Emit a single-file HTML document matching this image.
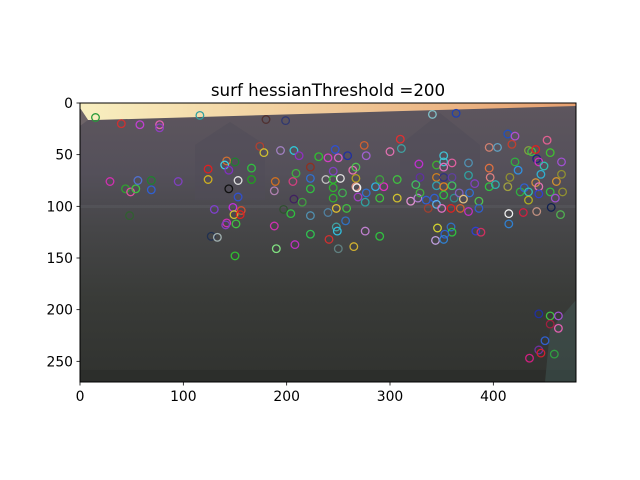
<!DOCTYPE html>
<html><head><meta charset="utf-8">
<style>
html,body{margin:0;padding:0;background:#fff;}
svg{display:block;font-family:"DejaVu Sans","Liberation Sans",sans-serif;}
</style></head>
<body>
<svg id="chart" width="640" height="480" viewBox="0 0 640 480" xmlns="http://www.w3.org/2000/svg">
<defs>
<linearGradient id="sky" x1="0" y1="0" x2="1" y2="0">
<stop offset="0" stop-color="#f8efc0"/><stop offset="0.5" stop-color="#f0c998"/><stop offset="1" stop-color="#e6a070"/>
</linearGradient>
<linearGradient id="bldg" x1="0" y1="0" x2="0" y2="1">
<stop offset="0" stop-color="#5e565e"/><stop offset="0.25" stop-color="#54505a"/><stop offset="0.45" stop-color="#464648"/><stop offset="0.7" stop-color="#393b38"/><stop offset="1" stop-color="#30322f"/>
</linearGradient>
<clipPath id="imgclip"><rect x="80" y="103" width="496" height="279"/></clipPath>
</defs>
<text x="328" y="96" text-anchor="middle" font-size="16.7">surf hessianThreshold =200</text>
<g id="photo" clip-path="url(#imgclip)">
<rect x="80" y="103" width="496" height="279" fill="url(#bldg)"/>
<polygon points="80,103 576,103 576,106 95,120 88,120 80,108" fill="url(#sky)"/>
<polygon points="80,108 88,120 80,126" fill="#6e6468"/>
<polygon points="195,145 230,122 265,145 265,200 195,200" fill="#504c58" opacity="0.5"/>
<polygon points="400,145 440,113 480,145 480,200 400,200" fill="#504c58" opacity="0.5"/>
<rect x="80" y="205" width="496" height="3" fill="#606068" opacity="0.35"/>
<rect x="80" y="370" width="496" height="12" fill="#2c2e2b"/>
<polygon points="550,330 576,300 576,382 545,382" fill="#4a6a66" opacity="0.35"/>
</g>
<g id="points" clip-path="url(#imgclip)"></g>
<rect x="80" y="103" width="496" height="279" fill="none" stroke="#000" stroke-width="1"/>
<g id="xticks"></g>
<g id="yticks"></g>
</svg>
<script>
const xTicks = [0, 100, 200, 300, 400];
const yTicks = [0, 50, 100, 150, 200, 250];
const kpX = [15,40,58,77,77,116,180,199,341,364,
174,178,194,207,212,231,240,247,250,259,275,277,300,310,311,352,396,404,414,418,421,434,437,441,452,455,
124,124,142,140,144,150,166,166,153,144,153,29,44,49,54,56,69,69,95,48,130,148,149,156,155,142,141,151,127,133,150,
189,188,206,209,223,223,223,207,215,197,204,223,188,223,208,190,
238,245,252,245,264,267,267,267,268,245,245,254,269,277,276,248,258,240,257,248,249,241,250,265,276,290,
286,294,290,307,290,307,320,325,327,329,329,328,335,337,345,345,345,343,345,352,352,360,352,360,352,360,352,350,359,362,368,367,371,376,376,382,377,386,386,376,346,359,360,353,344,352,383,388,
396,397,396,402,414,416,421,424,426,430,434,434,441,444,444,442,444,449,446,455,461,466,466,467,460,415,429,442,456,465,415,
444,455,463,455,463,450,444,446,459,435];
const kpY = [14,20,21,21,24,12,16,17,11,10,
42,48,46,46,51,52,53,45,53,51,41,51,47,35,44,51,43,43,30,40,32,46,47,45,36,48,
64,74,56,60,65,57,63,74,75,83,91,76,83,86,83,75,75,84,76,109,103,101,108,104,108,116,118,117,129,130,148,
76,85,76,68,62,73,83,93,96,103,107,109,119,127,137,141,
74,74,73,66,65,62,73,81,82,82,92,87,91,87,96,102,102,106,114,120,124,132,141,139,124,129,
81,81,74,74,92,92,95,79,92,87,72,59,94,102,60,72,80,92,98,57,62,58,72,72,81,80,89,102,102,92,102,87,93,58,70,78,87,95,102,105,121,120,125,127,133,132,124,125,
63,72,81,79,81,72,57,65,86,82,86,94,77,81,88,54,57,61,69,86,76,57,69,86,92,107,106,105,101,108,117,
204,206,206,214,218,230,239,242,243,247];
const kpColor = ["#2a9a3a","#d03030","#c040d0","#e060b0","#9040c0","#30a0a0","#503030","#303870","#80c0c8","#2040b0",
"#b04030","#d0c030","#a080c0","#30c8d8","#9030c0","#30c030","#d040c0","#3050d0","#d060c0","#2030a0","#d06030","#a060d0","#e070b0","#e03030","#40a0a0","#40c0d0","#d08070","#60a0c0","#2050c0","#c04030","#b050d0","#80a040","#40c040","#e02020","#e06090","#40c030",
"#e02020","#d0b020","#d07030","#40d0e0","#8030c0","#208030","#30c040","#20a020","#e0e0e0","#101010","#3050d0","#d030b0","#30a030","#e050a0","#40c040","#5070d0","#208030","#3060d0","#8040c0","#306030","#8040d0","#c030e0","#d0c030","#d05030","#e02020","#d030b0","#8040c0","#40c040","#203050","#a0b0b0","#30c030",
"#d07020","#b080b0","#d04080","#40b040","#903020","#3070d0","#30c040","#402060","#40a040","#305030","#30c040","#5090b0","#d030b0","#30c050","#c030c0","#80e080",
"#c0c0c0","#30c030","#e0e0e0","#8040c0","#e070b0","#50c050","#b0a020","#e09080","#f0f0f0","#30b030","#30b030","#40b050","#a040c0","#3070d0","#30a0a0","#e0c030","#40c040","#5080a0","#3070c0","#40a0a0","#30c0e0","#d03030","#608080","#d0b030","#c080d0","#30c040",
"#30b0e0","#e030c0","#40a040","#40c040","#40c040","#d0c030","#e090d0","#40c060","#b080d0","#40b040","#6030a0","#c030d0","#3060d0","#a04030","#40b030","#d08020","#30a0b0","#3060d0","#60b0e0","#40c0d0","#e070c0","#e060a0","#303080","#6040a0","#e08020","#40c060","#30c040","#e070c0","#e02020","#309090","#d06030","#8060c0","#e0c080","#5090b0","#30a0a0","#8040c0","#3070d0","#50c050","#3060d0","#c030c0","#d0d030","#3070c0","#30c040","#3060d0","#c0a0e0","#3080d0","#3040d0","#d03060",
"#e07040","#e08080","#30c040","#30b0b0","#a0a040","#909030","#30b040","#3090e0","#30b040","#3060d0","#30c0b0","#b0b020","#d09040","#e070b0","#3040d0","#202080","#d030c0","#30c0b0","#30b0d0","#30c040","#d09030","#a050d0","#909030","#909030","#a050d0","#f0f0f0","#d02040","#c09080","#102050","#50b050","#3080d0",
"#2030a0","#40c040","#a050d0","#a02040","#e060b0","#3060d0","#7030a0","#d02030","#30a040","#d02080"];

const X0 = 80, Y0 = 103, S = 496 / 480;
function sx(v){ return X0 + v * S; }
function sy(v){ return Y0 + v * S; }
const NS = "http://www.w3.org/2000/svg";

const pg = document.getElementById('points');
for (let i = 0; i < kpX.length; i++) {
  const c = document.createElementNS(NS, 'circle');
  c.setAttribute('cx', sx(kpX[i]).toFixed(1));
  c.setAttribute('cy', sy(kpY[i]).toFixed(1));
  c.setAttribute('r', 3.8);
  c.setAttribute('fill', 'none');
  c.setAttribute('stroke', kpColor[i % kpColor.length]);
  c.setAttribute('stroke-width', 1.3);
  
  
  pg.appendChild(c);
}

const xg = document.getElementById('xticks');
xTicks.forEach(t => {
  const x = sx(t);
  const l = document.createElementNS(NS, 'line');
  l.setAttribute('x1', x); l.setAttribute('x2', x);
  l.setAttribute('y1', 382); l.setAttribute('y2', 385.5);
  l.setAttribute('stroke', '#000'); l.setAttribute('stroke-width', 0.8);
  
  
  xg.appendChild(l);
  const tx = document.createElementNS(NS, 'text');
  tx.setAttribute('x', x); tx.setAttribute('y', 401);
  tx.setAttribute('text-anchor', 'middle'); tx.setAttribute('font-size', '13.9');
  tx.textContent = t;
  
  
  xg.appendChild(tx);
});
const yg = document.getElementById('yticks');
yTicks.forEach(t => {
  const y = sy(t);
  const l = document.createElementNS(NS, 'line');
  l.setAttribute('x1', 76.5); l.setAttribute('x2', 80);
  l.setAttribute('y1', y); l.setAttribute('y2', y);
  l.setAttribute('stroke', '#000'); l.setAttribute('stroke-width', 0.8);
  
  
  yg.appendChild(l);
  const tx = document.createElementNS(NS, 'text');
  tx.setAttribute('x', 73); tx.setAttribute('y', y + 5);
  tx.setAttribute('text-anchor', 'end'); tx.setAttribute('font-size', '13.9');
  tx.textContent = t;
  
  
  yg.appendChild(tx);
});
</script>
</body></html>
